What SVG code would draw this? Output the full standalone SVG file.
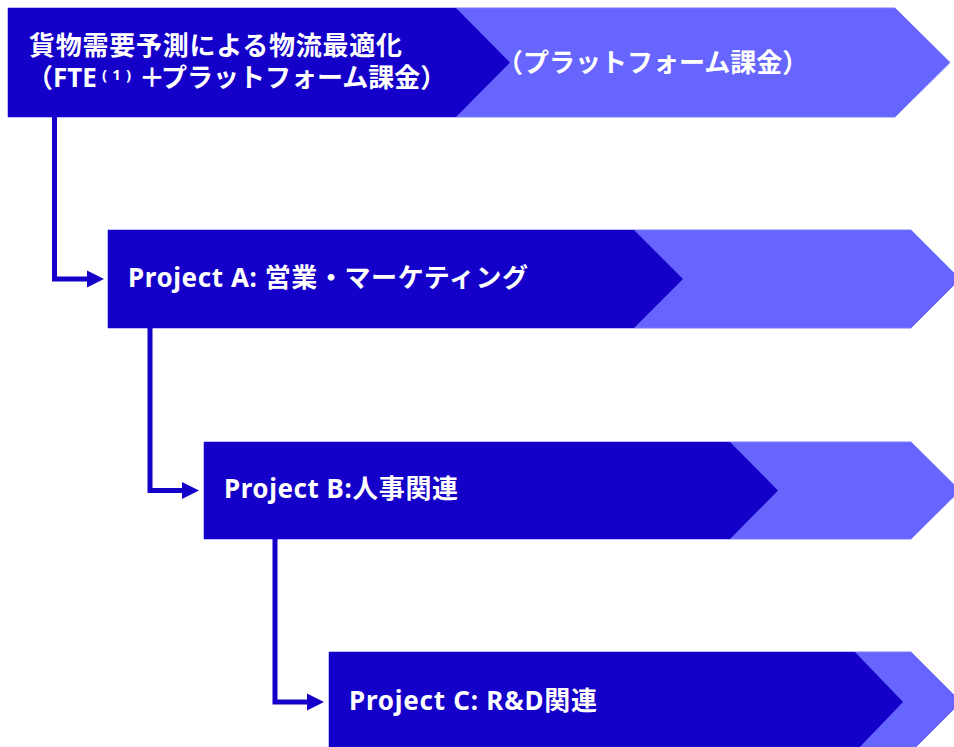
<svg xmlns="http://www.w3.org/2000/svg" width="954" height="747" viewBox="0 0 954 747">
<style>
.dark{fill:#1400C8;}
.light{fill:#6666FF;stroke:#7a7aff;stroke-width:1;}
.t{fill:#ffffff;font-family:"Noto Sans","Noto Sans CJK JP",sans-serif;font-weight:bold;font-size:26px;}
.conn{fill:none;stroke:#1400C8;stroke-width:5;}
.head{fill:#1400C8;}
</style>
<rect width="954" height="747" fill="#ffffff"/>
<g id="node0">
<polygon class="light" points="8,8 895,8 950,62.5 895,117 8,117"/>
<polygon class="dark" points="8,8 456,8 510,62.5 456,117 8,117"/>
<text class="t" x="29" y="55" font-size="26.4" textLength="373" lengthAdjust="spacing">貨物需要予測による物流最適化</text>
<text class="t" x="27" y="87">（FTE<tspan font-size="15" x="102" y="80" textLength="29" lengthAdjust="spacing">(1)</tspan><tspan x="139" y="87">＋</tspan><tspan x="161" y="87">プラットフォーム課金）</tspan></text>
<text class="t" x="497" y="72">（プラットフォーム課金）</text>
</g>
<g id="nodeA">
<polygon class="light" points="108,230 911,230 960,279 911,328 108,328"/>
<polygon class="dark" points="108,230 634,230 683,279 634,328 108,328"/>
<text class="t" x="128" y="287" textLength="400" lengthAdjust="spacing">Project A: 営業・マーケティング</text>
</g>
<g id="nodeB">
<polygon class="light" points="204,442 911,442 960,490.5 911,539 204,539"/>
<polygon class="dark" points="204,442 730,442 778,490.5 730,539 204,539"/>
<text class="t" x="224" y="498" textLength="234" lengthAdjust="spacing">Project B:人事関連</text>
</g>
<g id="nodeC">
<polygon class="light" points="329,652 911,652 961,702 911,752 329,752"/>
<polygon class="dark" points="329,652 855,652 903,702 855,752 329,752"/>
<text class="t" x="349" y="710" textLength="248" lengthAdjust="spacing">Project C: R&amp;D関連</text>
</g>
<g id="connectors">
<polyline class="conn" points="54.5,117 54.5,279 88,279"/>
<polygon class="head" points="87,270.5 104,279 87,287.5"/>
<polyline class="conn" points="150,328 150,490.5 183,490.5"/>
<polygon class="head" points="182,482 199,490.5 182,499"/>
<polyline class="conn" points="275,539 275,702 308,702"/>
<polygon class="head" points="307,693.5 324,702 307,710.5"/>
</g>
</svg>
